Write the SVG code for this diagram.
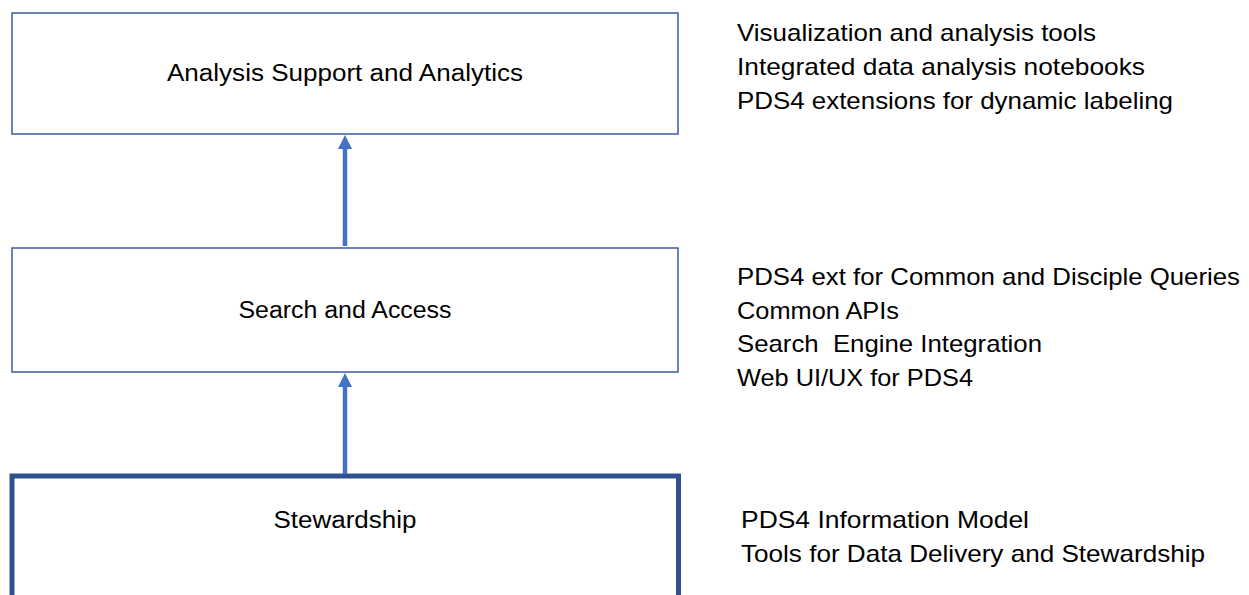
<svg xmlns="http://www.w3.org/2000/svg" width="1249" height="595" viewBox="0 0 1249 595">
  <style>
    .box { fill: #ffffff; stroke: #3A5D9C; stroke-width: 1.5; }
    .boxb { fill: #ffffff; stroke: #2F528F; stroke-width: 5; }
    .lbl { font-family: "Liberation Sans", Arial, sans-serif; font-size: 23px; fill: #000000; text-anchor: middle; }
    .note { font-family: "Liberation Sans", Arial, sans-serif; font-size: 24px; fill: #000000; }
    .conn { stroke: #4472C4; stroke-width: 4.5; fill: none; marker-end: url(#arrow); }
  </style>
  <defs>
    <marker id="arrow" markerUnits="userSpaceOnUse" markerWidth="16" markerHeight="16" refX="0" refY="7" orient="auto" overflow="visible">
      <path d="M0,0 L14,7 L0,14 Z" fill="#4472C4"/>
    </marker>
  </defs>
  <rect width="1249" height="595" fill="#ffffff"/>

  <g id="node-analysis">
    <rect class="box" x="12" y="13" width="666" height="121"/>
    <text class="lbl" x="345" y="81" textLength="356" lengthAdjust="spacingAndGlyphs">Analysis Support and Analytics</text>
  </g>
  <g id="node-search">
    <rect class="box" x="12" y="248" width="666" height="124"/>
    <text class="lbl" x="345" y="318" textLength="213" lengthAdjust="spacingAndGlyphs">Search and Access</text>
  </g>
  <g id="node-stewardship">
    <rect class="boxb" x="12" y="476" width="666.5" height="160"/>
    <text class="lbl" x="345" y="528" textLength="143" lengthAdjust="spacingAndGlyphs">Stewardship</text>
  </g>

  <g id="connectors">
    <line class="conn" x1="345" y1="246" x2="345" y2="149"/>
    <line class="conn" x1="345" y1="474" x2="345" y2="387"/>
  </g>

  <g id="notes-analysis">
    <text class="note" x="737" y="41" textLength="359" lengthAdjust="spacingAndGlyphs">Visualization and analysis tools</text>
    <text class="note" x="737" y="75" textLength="408" lengthAdjust="spacingAndGlyphs">Integrated data analysis notebooks</text>
    <text class="note" x="737" y="109" textLength="436" lengthAdjust="spacingAndGlyphs">PDS4 extensions for dynamic labeling</text>
  </g>
  <g id="notes-search">
    <text class="note" x="737" y="285" textLength="503" lengthAdjust="spacingAndGlyphs">PDS4 ext for Common and Disciple Queries</text>
    <text class="note" x="737" y="319" textLength="162" lengthAdjust="spacingAndGlyphs">Common APIs</text>
    <text class="note" x="737" y="352" textLength="305" lengthAdjust="spacingAndGlyphs" xml:space="preserve">Search  Engine Integration</text>
    <text class="note" x="737" y="386" textLength="236" lengthAdjust="spacingAndGlyphs">Web UI/UX for PDS4</text>
  </g>
  <g id="notes-stewardship">
    <text class="note" x="741" y="528" textLength="288" lengthAdjust="spacingAndGlyphs">PDS4 Information Model</text>
    <text class="note" x="741" y="562" textLength="464" lengthAdjust="spacingAndGlyphs">Tools for Data Delivery and Stewardship</text>
  </g>
</svg>
